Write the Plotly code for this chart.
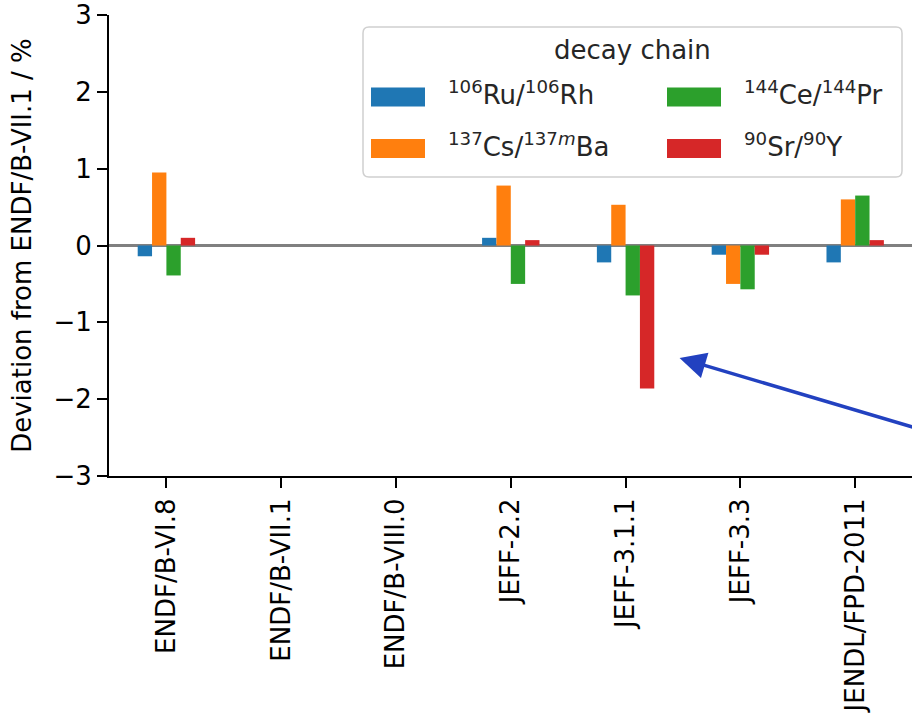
import plotly.graph_objects as go

# ---------------- data ----------------
libraries = ["ENDF/B-VI.8", "ENDF/B-VII.1", "ENDF/B-VIII.0", "JEFF-2.2",
             "JEFF-3.1.1", "JEFF-3.3", "JENDL/FPD-2011"]
ru106 = [-0.14, 0.0, 0.0, 0.10, -0.22, -0.12, -0.22]
cs137 = [0.95, 0.0, 0.0, 0.78, 0.53, -0.50, 0.60]
ce144 = [-0.39, 0.0, 0.0, -0.50, -0.65, -0.57, 0.65]
sr90 = [0.10, 0.0, 0.0, 0.07, -1.86, -0.12, 0.07]

series_names = ["<sup>106</sup>Ru/<sup>106</sup>Rh",
                "<sup>137</sup>Cs/<sup>137<i>m</i></sup>Ba",
                "<sup>144</sup>Ce/<sup>144</sup>Pr",
                "<sup>90</sup>Sr/<sup>90</sup>Y"]
series_values = [ru106, cs137, ce144, sr90]
series_colors = ["#1f77b4", "#ff7f0e", "#2ca02c", "#d62728"]

y_ticks = [-3, -2, -1, 0, 1, 2, 3]

# ---------------- layout geometry ----------------
W, H = 912, 715
ML, MR, MT, MB = 109, 0, 15, 239
FONT = "DejaVu Sans"


def px_x(px):  # page pixel -> paper
    return (px - ML) / (W - ML - MR)


def px_y(py):
    return (H - MB - py) / (H - MT - MB)


fig = go.Figure()
for name, vals, col in zip(series_names, series_values, series_colors):
    fig.add_trace(go.Bar(x=libraries, y=vals, name=name,
                         marker=dict(color=col, line=dict(width=0)),
                         showlegend=False))

fig.update_layout(
    width=W, height=H,
    margin=dict(l=ML, r=MR, t=MT, b=MB, pad=0, autoexpand=False),
    paper_bgcolor="white", plot_bgcolor="white",
    barmode="group", bargap=0.5, bargroupgap=0,
    font=dict(family=FONT, size=26, color="black"),
    showlegend=False,
)
fig.update_xaxes(
    type="category", range=[-0.5, 6.495], automargin=False,
    showline=True, linecolor="black", linewidth=2, mirror=False,
    ticks="outside", ticklen=10, tickwidth=2, tickcolor="black",
    tickangle=-90, tickfont=dict(family=FONT, size=26, color="black"),
    ticklabeloverflow="allow",
    showgrid=False, zeroline=False,
)
fig.update_yaxes(
    range=[-3, 3], tickvals=y_ticks, automargin=False,
    showline=True, linecolor="black", linewidth=2, mirror=False,
    ticks="outside", ticklen=10, tickwidth=2, tickcolor="black",
    tickfont=dict(family=FONT, size=26, color="black"),
    ticklabeloverflow="allow",
    showgrid=False,
    zeroline=True, zerolinecolor="#808080", zerolinewidth=2.5,
    title=dict(text="Deviation from ENDF/B-VII.1 / %",
               font=dict(family=FONT, size=26, color="black"), standoff=14),
)

# ---------------- manual legend (matplotlib style) ----------------
bx0, bx1, by0, by1, r = 363, 902, 27, 177, 6
path = (f"M {px_x(bx0 + r)} {px_y(by0)} L {px_x(bx1 - r)} {px_y(by0)} "
        f"Q {px_x(bx1)} {px_y(by0)} {px_x(bx1)} {px_y(by0 + r)} "
        f"L {px_x(bx1)} {px_y(by1 - r)} "
        f"Q {px_x(bx1)} {px_y(by1)} {px_x(bx1 - r)} {px_y(by1)} "
        f"L {px_x(bx0 + r)} {px_y(by1)} "
        f"Q {px_x(bx0)} {px_y(by1)} {px_x(bx0)} {px_y(by1 - r)} "
        f"L {px_x(bx0)} {px_y(by0 + r)} "
        f"Q {px_x(bx0)} {px_y(by0)} {px_x(bx0 + r)} {px_y(by0)} Z")
fig.add_shape(type="path", path=path, xref="paper", yref="paper",
              fillcolor="rgba(255,255,255,0.85)",
              line=dict(color="#d0d0d0", width=1.5), layer="above")
fig.add_annotation(text="decay chain", xref="paper", yref="paper",
                   x=px_x((bx0 + bx1) / 2), y=px_y(50),
                   xanchor="center", yanchor="middle", showarrow=False,
                   font=dict(family=FONT, size=26, color="#262626"))

# column-major order: col1 = series 0,1 ; col2 = series 2,3
col_patch_x = [371, 667]
col_text_x = [446, 742]
row_y = [97, 148.5]
for i, (name, col) in enumerate(zip(series_names, series_colors)):
    c, rr = divmod(i, 2)
    x0 = col_patch_x[c]
    yc = row_y[rr]
    fig.add_shape(type="rect", xref="paper", yref="paper",
                  x0=px_x(x0), x1=px_x(x0 + 54),
                  y0=px_y(yc - 9.5), y1=px_y(yc + 9.5),
                  fillcolor=col, line=dict(width=0), layer="above")
    fig.add_annotation(text=name, xref="paper", yref="paper",
                       x=px_x(col_text_x[c]), y=px_y(yc - 4),
                       xanchor="left", yanchor="middle", showarrow=False,
                       font=dict(family=FONT, size=26, color="#262626"))

# ---------------- blue arrow pointing at the JEFF-3.1.1 90Sr bar ----------------
fig.add_annotation(x=4.47, y=-1.464, xref="x", yref="y",
                   ax=6.91, ay=-2.545, axref="x", ayref="y",
                   text="", showarrow=True, arrowhead=2, arrowsize=1.5,
                   arrowwidth=3.5, arrowcolor="#2241C0", standoff=0)

# remove the default 8px page margin so the figure starts at the window corner
fig.write_html("out.html",
               config={"displayModeBar": False},
               post_script="document.body.style.margin='0';")
